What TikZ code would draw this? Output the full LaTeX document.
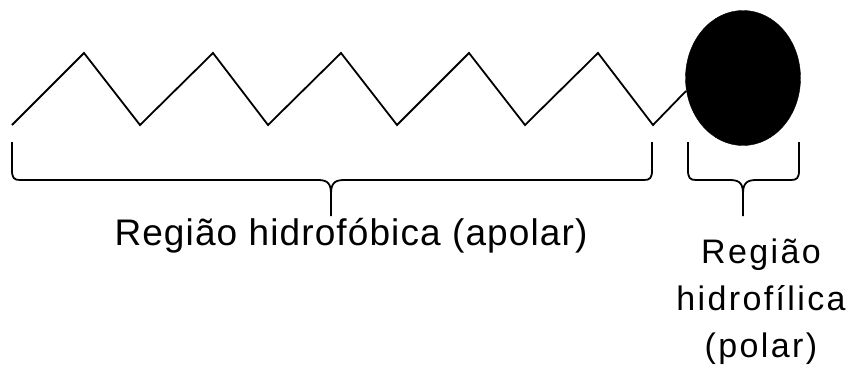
\documentclass[tikz,border=0pt]{standalone}
\usepackage{fontspec}
\setmainfont{Liberation Sans}
\newfontfamily\leftfont[LetterSpace=3]{Liberation Sans}
\newfontfamily\rightfont[LetterSpace=7]{Liberation Sans}
\usetikzlibrary{shapes.geometric}
\begin{document}
\begin{tikzpicture}[x=1pt,y=-1pt,
  chain/.style={line width=1.8pt,line join=miter},
  bracestyle/.style={line width=1.8pt},
  bigtext/.style={anchor=base,inner sep=0,font=\leftfont\fontsize{37}{44}\selectfont},
  smalltext/.style={anchor=base,inner sep=0,font=\rightfont\fontsize{34}{40}\selectfont}]
\useasboundingbox (0,0) rectangle (850,364);
\node[ellipse,fill=black,draw=black,minimum width=115pt,minimum height=135pt,inner sep=0] (head) at (743,78) {};
\coordinate (j) at (686,91);
\draw[chain] (12,125) -- (84,53) -- (140,125) -- (213,53) -- (268,125) -- (341,53)
  -- (397,125) -- (469,53) -- (525,125) -- (598,53) -- (653,125) -- (j);
% left brace
\draw[bracestyle] (12,142) -- (12,170) .. controls (12,178) and (14,180) .. (20,180)
  -- (318,180) .. controls (328,180) and (331,184) .. (331,194) -- (331,216);
\draw[bracestyle] (331,194) .. controls (331,184) and (334,180) .. (344,180)
  -- (644,180) .. controls (650,180) and (652,178) .. (652,170) -- (652,142);
% right brace
\draw[bracestyle] (688,142) -- (688,170) .. controls (688,178) and (690,180) .. (696,180)
  -- (730,180) .. controls (740,180) and (743,184) .. (743,194) -- (743,216);
\draw[bracestyle] (743,194) .. controls (743,184) and (746,180) .. (756,180)
  -- (791,180) .. controls (797,180) and (799,178) .. (799,170) -- (799,142);
\node[bigtext] (hidro) at (351,245) {Região hidrofóbica (apolar)};
\node[smalltext] (r1) at (761,263) {Região};
\node[smalltext] (r2) at (761,310) {hidrofílica};
\node[smalltext] (r3) at (761,357) {(polar)};
\end{tikzpicture}
\end{document}
